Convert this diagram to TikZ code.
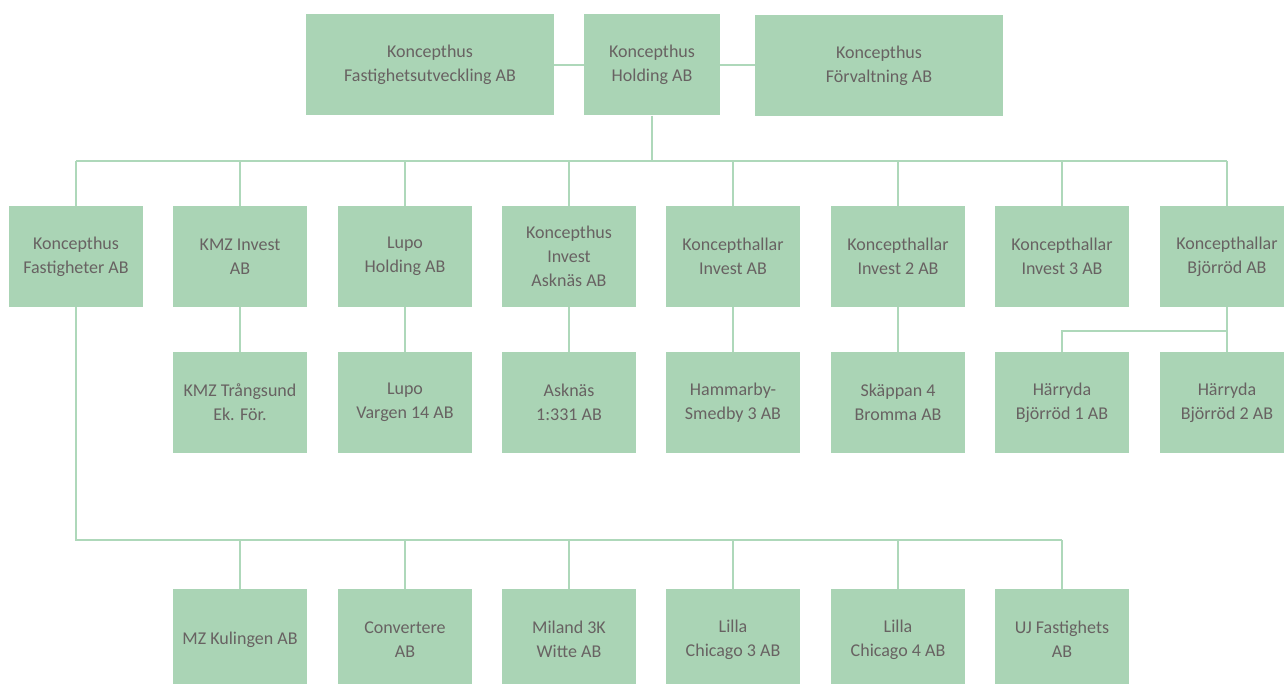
\documentclass[tikz,border=0pt]{standalone}
\usepackage{fontspec}
\setmainfont{Carlito}
\definecolor{boxgreen}{RGB}{170,212,181}
\definecolor{linegreen}{RGB}{174,216,186}
\definecolor{txtgray}{RGB}{104,98,98}
\begin{document}
\begin{tikzpicture}[x=1pt,y=-1pt,
  box/.style={fill=boxgreen, draw=none, minimum width=134pt, minimum height=101pt,
    inner sep=0pt, align=center, text=txtgray, font=\fontsize{18}{24}\selectfont},
  wbox/.style={box, minimum width=248pt},
  link/.style={draw=linegreen, line width=2.4pt}]
\useasboundingbox (0,0) rectangle (1284,684);

% top row
\node[wbox] (fu) at (430,65) {Koncepthus\\Fastighetsutveckling AB\\[-20pt]};
\node[box, minimum width=136pt] (ho) at (652,65) {Koncepthus\\Holding AB\\[-20pt]};
\node[wbox] (fo) at (879,66) {Koncepthus\\Förvaltning AB\\[-20pt]};

% second row
\node[box] (k1) at (76,256.5) {Koncepthus\\Fastigheter AB};
\node[box] (k2) at (240,256.5) {KMZ Invest\\AB};
\node[box] (k3) at (405,256.5) {Lupo\\Holding AB};
\node[box] (k4) at (569,256.5) {Koncepthus\\Invest\\Asknäs AB};
\node[box] (k5) at (733,256.5) {Koncepthallar\\Invest AB};
\node[box] (k6) at (898,256.5) {Koncepthallar\\Invest 2 AB};
\node[box] (k7) at (1062,256.5) {Koncepthallar\\Invest 3 AB};
\node[box] (k8) at (1227,256.5) {Koncepthallar\\Björröd AB};

% third row
\node[box] (r2) at (240,402.5) {KMZ Trångsund\\Ek. För.};
\node[box] (r3) at (405,402.5) {Lupo\\Vargen 14 AB};
\node[box] (r4) at (569,402.5) {Asknäs\\1:331 AB};
\node[box] (r5) at (733,402.5) {Hammarby-\\Smedby 3 AB};
\node[box] (r6) at (898,402.5) {Skäppan 4\\Bromma AB};
\node[box] (r7) at (1062,402.5) {Härryda\\Björröd 1 AB};
\node[box] (r8) at (1227,402.5) {Härryda\\Björröd 2 AB};

% fourth row
\node[box] (m2) at (240,639.5) {MZ Kulingen AB};
\node[box] (m3) at (405,639.5) {Convertere\\AB};
\node[box] (m4) at (569,639.5) {Miland 3K\\Witte AB};
\node[box] (m5) at (733,639.5) {Lilla\\Chicago 3 AB};
\node[box] (m6) at (898,639.5) {Lilla\\Chicago 4 AB};
\node[box] (m7) at (1062,639.5) {UJ Fastighets\\AB};

% connectors
\draw[link] (fu.east |- ho) -- (ho.west);
\draw[link] (ho.east) -- (fo.west |- ho);

\coordinate (hb) at (652,161);
\draw[link] (ho.south) -- (hb);
\draw[link] (k1 |- hb) -- (k8 |- hb);
\foreach \n in {k1,k2,k3,k4,k5,k6,k7,k8}
  \draw[link] (\n |- hb) -- (\n.north);

\foreach \a/\b in {k2/r2,k3/r3,k4/r4,k5/r5,k6/r6}
  \draw[link] (\a.south) -- (\b.north);
\coordinate (bj) at (1227,331);
\draw[link] (k8.south) -- (r8.north);
\draw[link] (bj) -| (r7.north);

\coordinate (fb) at (76,540);
\draw[link] (k1.south) -- (fb) -- (m7 |- fb);
\foreach \n in {m2,m3,m4,m5,m6,m7}
  \draw[link] (\n |- fb) -- (\n.north);
\end{tikzpicture}
\end{document}
